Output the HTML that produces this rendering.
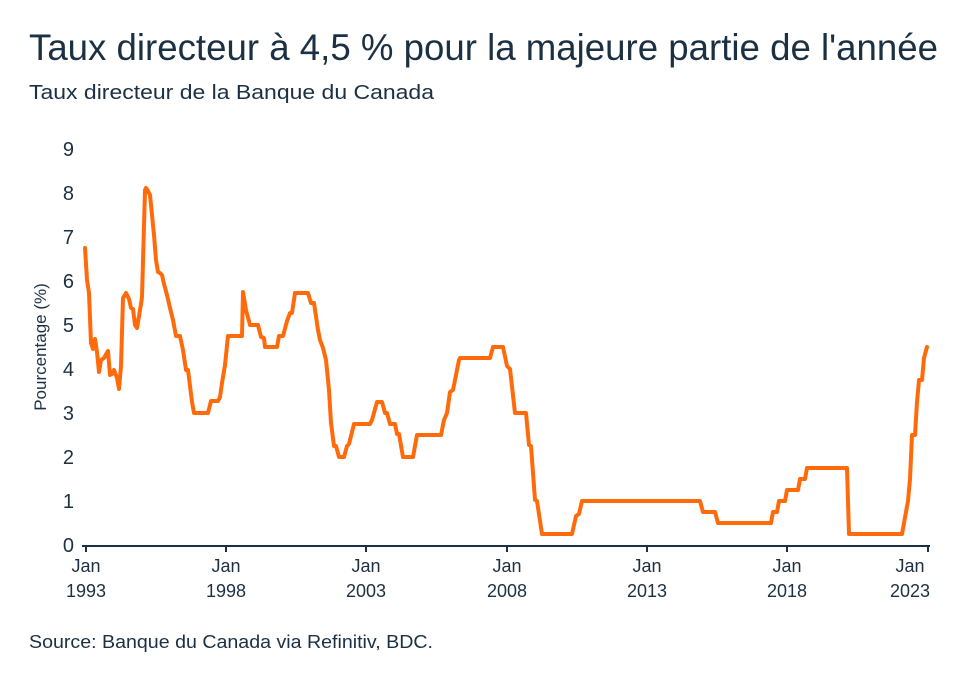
<!DOCTYPE html>
<html><head><meta charset="utf-8"><style>
html,body{margin:0;padding:0;background:#fff;}
svg{display:block;font-family:"Liberation Sans",sans-serif;}
</style></head><body>
<svg width="960" height="684" viewBox="0 0 960 684" xmlns="http://www.w3.org/2000/svg">
<rect width="960" height="684" fill="#fff"/>
<g fill="#1b3042">
<text x="29" y="60" font-size="37" textLength="909" lengthAdjust="spacingAndGlyphs">Taux directeur à 4,5 % pour la majeure partie de l'année</text>
<text x="29" y="99" font-size="20" textLength="405" lengthAdjust="spacingAndGlyphs">Taux directeur de la Banque du Canada</text>
<g font-size="20" text-anchor="end">
<text x="74" y="552">0</text><text x="74" y="508">1</text><text x="74" y="464">2</text>
<text x="74" y="420">3</text><text x="74" y="376">4</text><text x="74" y="332">5</text>
<text x="74" y="288">6</text><text x="74" y="244">7</text><text x="74" y="200">8</text>
<text x="74" y="156">9</text>
</g>
<text transform="translate(46,347) rotate(-90)" font-size="17" text-anchor="middle">Pourcentage (%)</text>
<g font-size="18" text-anchor="middle">
<text x="86" y="572">Jan</text><text x="86" y="597">1993</text>
<text x="226" y="572">Jan</text><text x="226" y="597">1998</text>
<text x="366" y="572">Jan</text><text x="366" y="597">2003</text>
<text x="507" y="572">Jan</text><text x="507" y="597">2008</text>
<text x="647" y="572">Jan</text><text x="647" y="597">2013</text>
<text x="787" y="572">Jan</text><text x="787" y="597">2018</text>
<text x="910" y="572">Jan</text><text x="910" y="597">2023</text>
</g>
<text x="29" y="648" font-size="18.5" textLength="404" lengthAdjust="spacingAndGlyphs">Source: Banque du Canada via Refinitiv, BDC.</text>
</g>
<g stroke="#1b3042" stroke-width="2">
<line x1="82" y1="546" x2="930" y2="546"/>
<line x1="86" y1="546" x2="86" y2="552"/><line x1="226" y1="546" x2="226" y2="552"/>
<line x1="366" y1="546" x2="366" y2="552"/><line x1="507" y1="546" x2="507" y2="552"/>
<line x1="647" y1="546" x2="647" y2="552"/><line x1="787" y1="546" x2="787" y2="552"/>
<line x1="928" y1="546" x2="928" y2="552"/>
</g>
<polyline fill="none" stroke="#ff6a0b" stroke-width="4" stroke-linejoin="round" stroke-linecap="round" points="
85,248 87,280 89,293 91,343 93,349 95,339 97,352 99,372 101,360 104,358 108,351 110,375 112,374 114,370 117,378 119,389 121,366 123,298 126,293 129,299 131,308 133,309 135,325 137,328 139,316 141,304 142,297 145,190 146,188 148,191 150,195 152,215 154,235 156,260 158,272 160,273 162,275 164,284 167,295 170,308 173,320 176,336 180,336 183,350 186,370 188,370 192,402 194,413 208,413 211,401 218,401 220,397 222,383 225,365 228,336 242,336 243,292 246,310 250,325 258,325 261,337 264,338 265,347 277,347 279,336 283,336 287,321 290,313 292,313 295,293 308,293 311,303 314,303 318,330 320,340 323,348 326,360 329,390 331,423 334,446 336,446 339,457 344,457 347,446 349,444 354,424 370,424 372,420 377,402 382,402 385,413 387,413 390,424 395,424 397,434 399,434 403,457 413,457 417,435 441,435 444,420 447,413 450,392 453,390 459,360 460,358 490,358 493,347 503,347 507,366 510,369 515,413 526,413 529,445 531,446 535,500 537,501 542,534 572,534 576,516 579,514 582,501 700,501 703,512 715,512 718,523 771,523 773,512 777,512 779,501 785,501 787,490 798,490 800,479 805,479 807,468 847,468 849,534 902,534 904,523 906,512 908,501 910,479 912,435 915,435 917,402 919,380 922,380 924,358 927,347"/>
</svg>
</body></html>
